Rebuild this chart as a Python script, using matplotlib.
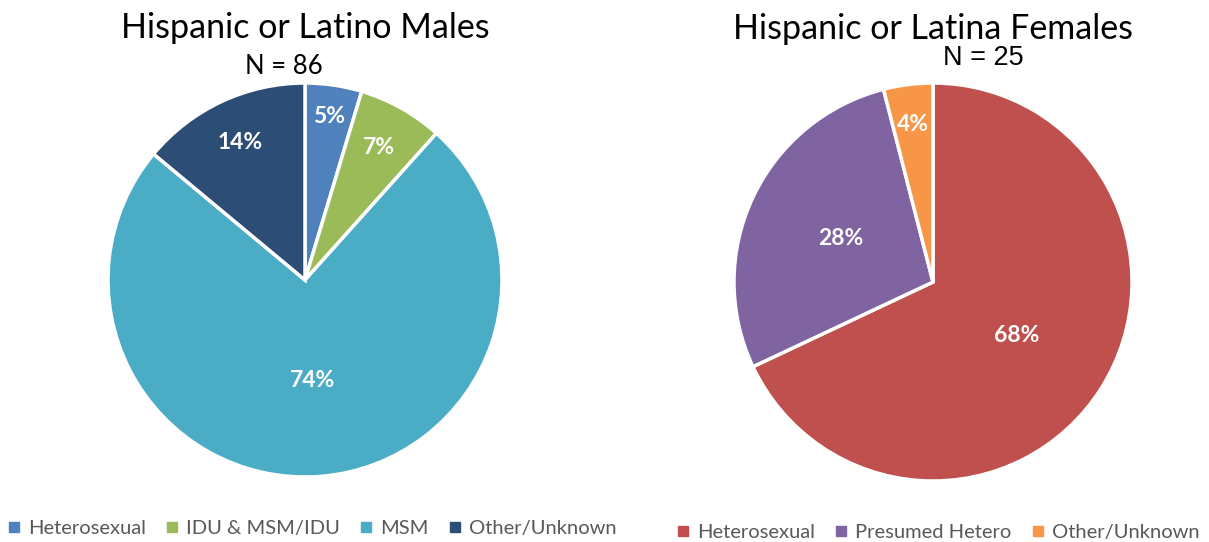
import matplotlib
matplotlib.use("Agg")
import matplotlib.pyplot as plt
import numpy as np
from matplotlib.lines import Line2D

# ---- data ----
male_title = "Hispanic or Latino Males"
male_n = "N = 86"
male_labels = ["Heterosexual", "IDU & MSM/IDU", "MSM", "Other/Unknown"]
male_counts = [4, 6, 64, 12]
male_colors = ["#4F81BD", "#9BBB59", "#4BACC6", "#2C4D75"]

female_title = "Hispanic or Latina Females"
female_n = "N = 25"
female_labels = ["Heterosexual", "Presumed Hetero", "Other/Unknown"]
female_counts = [17, 7, 1]
female_colors = ["#C0504D", "#8064A2", "#F79646"]

W, H = 1209, 542
fig = plt.figure(figsize=(W / 100, H / 100), dpi=100)
fig.patch.set_facecolor("white")

FONT = ["Lato", "DejaVu Sans"]


def draw_pie(cx, cy, r, counts, colors, label_dist):
    ax = fig.add_axes([(cx - r) / W, 1 - (cy + r) / H, 2 * r / W, 2 * r / H])
    wedges, _ = ax.pie(counts, colors=colors, startangle=90, counterclock=False,
                       radius=1, wedgeprops=dict(edgecolor="white", linewidth=2.5))
    for w in wedges:
        w.set_clip_on(False)
    ax.set_xlim(-1, 1)
    ax.set_ylim(-1, 1)
    ax.set_aspect("equal")
    ax.axis("off")
    total = sum(counts)
    for w, c, d in zip(wedges, counts, label_dist):
        ang = np.deg2rad((w.theta1 + w.theta2) / 2)
        ax.text(d * np.cos(ang), d * np.sin(ang), f"{round(100 * c / total):d}%",
                ha="center", va="center", color="white", fontsize=16.5,
                fontweight="bold", family=FONT)
    return ax


draw_pie(305, 280, 197, male_counts, male_colors, [0.84, 0.77, 0.51, 0.77])
draw_pie(933, 282, 199, female_counts, female_colors, [0.5, 0.51, 0.8])

fig.text(305 / W, 1 - 28 / H, male_title, ha="center", va="center",
         fontsize=24.5, family=FONT, color="black")
fig.text(284 / W, 1 - 66 / H, male_n, ha="center", va="center",
         fontsize=18.5, family=FONT, color="black")
fig.text(933 / W, 1 - 29 / H, female_title, ha="center", va="center",
         fontsize=24.5, family=FONT, color="black")
fig.text(983 / W, 1 - 58 / H, female_n, ha="center", va="center",
         fontsize=19.5, family=["Liberation Sans", "DejaVu Sans"], color="black")


def legend(labels, colors, x, y):
    handles = [Line2D([0], [0], marker="s", linestyle="none", markersize=6.5,
                      markerfacecolor=c, markeredgecolor=c) for c in colors]
    leg = fig.legend(handles, labels, loc="center", bbox_to_anchor=(x / W, 1 - y / H),
                     ncol=len(labels), frameon=False, handletextpad=0.3,
                     columnspacing=0.9, handlelength=0.8,
                     prop=dict(family=FONT, size=14.5))
    for t in leg.get_texts():
        t.set_color("#595959")


legend(male_labels, male_colors, 311, 528)
legend(female_labels, female_colors, 937, 532)

fig.savefig("out.png", dpi=100, facecolor="white")
